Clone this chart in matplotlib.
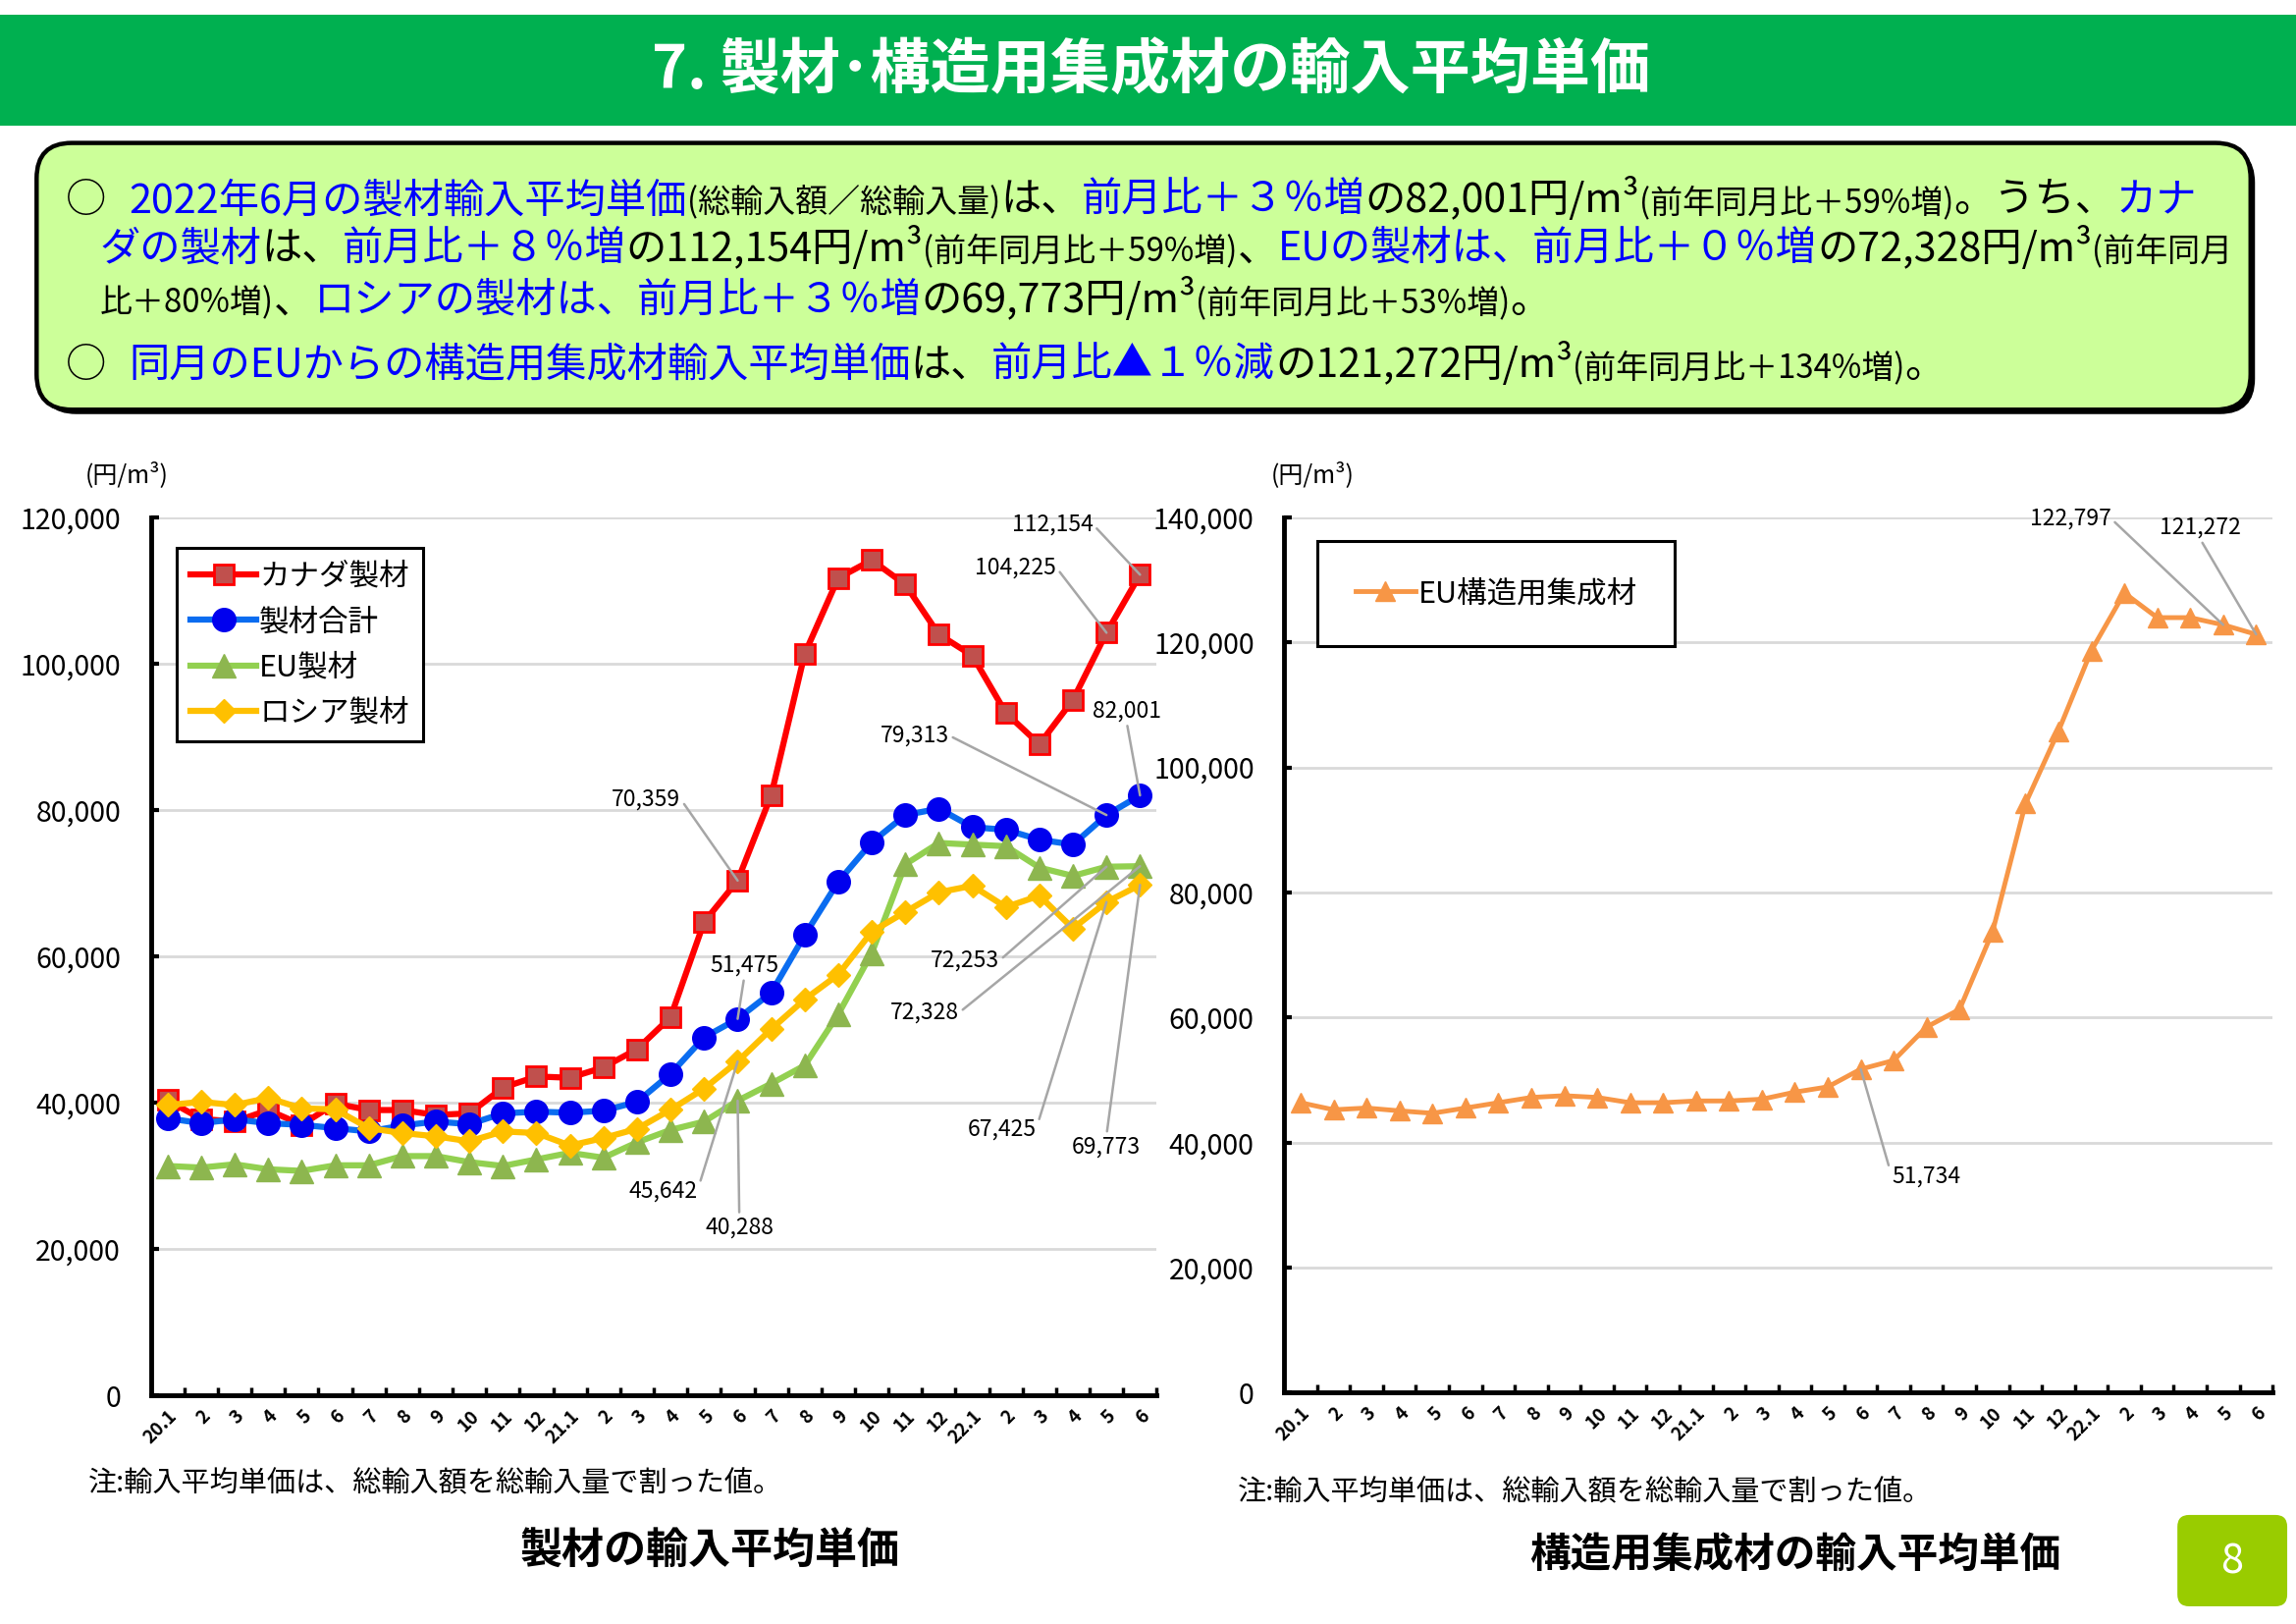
import matplotlib.pyplot as plt
from matplotlib.patches import FancyBboxPatch, Rectangle
from matplotlib.ticker import FuncFormatter

plt.rcParams['font.family'] = ['Noto Sans CJK JP', 'DejaVu Sans']

# ---- data (yen per m3), 2020.1 - 2022.6 ----
MONTHS = ["20.1", "2", "3", "4", "5", "6", "7", "8", "9", "10", "11", "12",
          "21.1", "2", "3", "4", "5", "6", "7", "8", "9", "10", "11", "12",
          "22.1", "2", "3", "4", "5", "6"]

CANADA = [40360, 37800, 37440, 39000, 37000, 39910, 39010, 39010, 38340, 38560,
          42070, 43600, 43420, 44850, 47330, 51700, 64700, 70359, 82000, 101350,
          111700, 114150, 110800, 104000, 101100, 93260, 88990, 95050, 104225, 112154]
TOTAL = [37890, 37210, 37750, 37210, 36990, 36540, 36090, 36900, 37440, 37080,
         38560, 38790, 38650, 38920, 40130, 43950, 48940, 51475, 55030, 62900,
         70200, 75600, 79300, 80200, 77660, 77300, 75950, 75280, 79313, 82001]
EU = [31370, 31150, 31600, 30920, 30700, 31460, 31460, 32720, 32720, 31900,
      31370, 32270, 33170, 32500, 34600, 36300, 37430, 40288, 42620, 45100,
      52100, 60450, 72580, 75500, 75280, 75060, 72130, 71000, 72253, 72328]
RUSSIA = [39690, 40130, 39690, 40670, 39240, 39100, 36540, 35870, 35420, 34740,
          36090, 35870, 34160, 35190, 36450, 39050, 41940, 45642, 50070, 54130,
          57520, 63370, 66070, 68760, 69660, 66740, 68300, 63820, 67425, 69773]
GLULAM = [46370, 45240, 45520, 45070, 44680, 45520, 46370, 47210, 47490, 47210,
          46370, 46370, 46650, 46650, 46930, 48060, 48900, 51734, 53130, 58480,
          61300, 73690, 94210, 105790, 118680, 127890, 123950, 123950, 122797, 121272]

BLUE_TXT = "#0000FF"
W, H = 1568, 1102   # layout grid used for placing page elements

fig = plt.figure(figsize=(23.39, 16.54), dpi=100)
bg = fig.add_axes([0, 0, 1, 1])
bg.set_xlim(0, W)
bg.set_ylim(H, 0)
bg.axis("off")


def fx(x):
    return x / W


def fy(y):
    return 1 - y / H


# header band and title
bg.add_patch(Rectangle((0, 10), W, 75, color="#00B050", lw=0))
bg.text(W / 2 + 2, 48, "7. 製材･構造用集成材の輸入平均単価", color="white",
        fontsize=44, fontweight="bold", ha="center", va="center")

# summary box
bg.add_patch(FancyBboxPatch((28, 100), 1512, 181, boxstyle="round,pad=0,rounding_size=24",
                            fc="black", ec="black", lw=0))
bg.add_patch(FancyBboxPatch((25, 97), 1512, 181, boxstyle="round,pad=0,rounding_size=24",
                            fc="#CCFF99", ec="black", lw=3.2))


def put_runs(x, y, runs, size):
    r = fig.canvas.get_renderer()
    made = []
    for text, color, rel in runs:
        t = bg.text(x, y, text, color=color, fontsize=size * rel, ha="left", va="baseline")
        made.append(t)
        x += t.get_window_extent(renderer=r).width * W / fig.bbox.width
    return x, made


K = "black"
B = BLUE_TXT
LINE1 = [("2022年6月の製材輸入平均単価", B, 1), ("(総輸入額／総輸入量)", K, .8), ("は、", K, 1),
         ("前月比＋３％増", B, 1), ("の82,001円/m³", K, 1), ("(前年同月比＋59%増)", K, .8),
         ("。うち、", K, 1), ("カナ", B, 1)]
LINE2 = [("ダの製材", B, 1), ("は、", K, 1), ("前月比＋８％増", B, 1), ("の112,154円/m³", K, 1),
         ("(前年同月比＋59%増)", K, .8), ("、", K, 1), ("EUの製材は、前月比＋０％増", B, 1),
         ("の72,328円/m³", K, 1), ("(前年同月", K, .8)]
LINE3 = [("比＋80%増)", K, .8), ("、", K, 1), ("ロシアの製材は、前月比＋３％増", B, 1),
         ("の69,773円/m³", K, 1), ("(前年同月比＋53%増)", K, .8), ("。", K, 1)]
LINE4 = [("同月のEUからの構造用集成材輸入平均単価", B, 1), ("は、", K, 1), ("前月比▲１％減", B, 1),
         ("の121,272円/m³", K, 1), ("(前年同月比＋134%増)", K, .8), ("。", K, 1)]

end, tmp = put_runs(88, 144, LINE1, 20)
for t in tmp:
    t.remove()
size = 20 * (1500 - 88) / (end - 88)

bg.text(45, 144, "○", fontsize=size, ha="left", va="baseline")
put_runs(88, 144, LINE1, size)
put_runs(68, 177, LINE2, size)
put_runs(68, 212, LINE3, size)
bg.text(45, 256, "○", fontsize=size, ha="left", va="baseline")
put_runs(88, 256, LINE4, size)

# unit labels, notes, captions
bg.text(58, 322, "(円/m³)", fontsize=18, ha="left", va="center")
bg.text(868, 322, "(円/m³)", fontsize=18, ha="left", va="center")
note = "注:輸入平均単価は、総輸入額を総輸入量で割った値。"
bg.text(60, 1007, note, fontsize=21, ha="left", va="center")
bg.text(845, 1013, note, fontsize=21, ha="left", va="center")
bg.text(485, 1052, "製材の輸入平均単価", fontsize=31, fontweight="bold", ha="center", va="center")
bg.text(1226, 1055, "構造用集成材の輸入平均単価", fontsize=30, fontweight="bold",
        ha="center", va="center")
bg.add_patch(FancyBboxPatch((1487, 1028), 75, 62, boxstyle="round,pad=0,rounding_size=8",
                            fc="#99CC00", ec="none"))
bg.text(1524, 1060, "8", color="white", fontsize=30, ha="center", va="center")


def style_axes(ax, ymax):
    ax.set_xlim(-0.5, len(MONTHS) - 0.5)
    ax.set_ylim(0, ymax)
    ax.set_yticks(range(0, ymax + 1, 20000))
    ax.yaxis.set_major_formatter(FuncFormatter(lambda v, p: f"{v:,.0f}"))
    ax.set_xticks(range(len(MONTHS)))
    ax.set_xticklabels(MONTHS, rotation=45, ha="right", rotation_mode="anchor",
                       fontweight="bold", fontsize=13.5)
    ax.set_xticks([i + 0.5 for i in range(len(MONTHS))], minor=True)
    ax.tick_params(axis="x", which="major", length=0, pad=8)
    ax.tick_params(axis="x", which="minor", length=6, width=2.5, direction="in")
    ax.tick_params(axis="y", length=6, width=3, direction="in", labelsize=20.5, pad=22)
    ax.grid(axis="y", color="#D9D9D9", lw=2)
    ax.set_axisbelow(True)
    for s in ("top", "right"):
        ax.spines[s].set_visible(False)
    for s in ("left", "bottom"):
        ax.spines[s].set_linewidth(3.5)


def label(ax, series, idx, xt, yt, ha, rel):
    ax.annotate(f"{series[idx]:,}", xy=(idx, series[idx]), xytext=(xt, yt),
                ha=ha, va="center", fontsize=16.5, annotation_clip=False, zorder=6,
                arrowprops=dict(arrowstyle="-", color="#A6A6A6", lw=1.8,
                                shrinkA=1, shrinkB=0, relpos=rel))


x = list(range(len(MONTHS)))

# ---- left chart: sawn wood ----
ax1 = fig.add_axes([fx(103), fy(947), (790 - 103) / W, (947 - 351) / H])
style_axes(ax1, 120000)
ax1.plot(x, CANADA, color="#FF0000", lw=4.5, marker="s", ms=15, mfc="#C0504D",
         mec="#FF0000", mew=2, label="カナダ製材")
ax1.plot(x, TOTAL, color="#0A6CF0", lw=4.5, marker="o", ms=17, mfc="#0000EE",
         mec="#0000EE", label="製材合計")
ax1.plot(x, EU, color="#92D050", lw=4.5, marker="^", ms=17, mfc="#8DB64F",
         mec="#8DB64F", label="EU製材")
ax1.plot(x, RUSSIA, color="#FFC000", lw=4.5, marker="D", ms=12, mfc="#FFC000",
         mec="#FFC000", label="ロシア製材")
leg1 = ax1.legend(loc="upper left", bbox_to_anchor=(0.026, 0.965), borderaxespad=0,
                  fontsize=22, fancybox=False, edgecolor="black", framealpha=1,
                  handlelength=2.2, handletextpad=0.1, labelspacing=0.5, borderpad=0.45)
leg1.get_frame().set_linewidth(2.2)

label(ax1, CANADA, 29, 27.6, 119000, "right", (1, 0.5))
label(ax1, CANADA, 28, 26.5, 113150, "right", (1, 0.5))
label(ax1, TOTAL, 29, 28.6, 93600, "center", (0.5, 0))
label(ax1, TOTAL, 28, 23.3, 90200, "right", (1, 0.5))
label(ax1, CANADA, 17, 15.3, 81500, "right", (1, 0.5))
label(ax1, TOTAL, 17, 17.2, 58800, "center", (0.5, 0))
label(ax1, EU, 28, 24.8, 59400, "right", (1, 0.5))
label(ax1, EU, 29, 23.6, 52300, "right", (1, 0.5))
label(ax1, RUSSIA, 28, 25.9, 36400, "right", (1, 0.5))
label(ax1, RUSSIA, 29, 28.0, 34000, "center", (0.5, 1))
label(ax1, RUSSIA, 17, 15.8, 28000, "right", (1, 0.5))
label(ax1, EU, 17, 17.05, 22950, "center", (0.5, 1))

# ---- right chart: structural glulam from EU ----
ax2 = fig.add_axes([fx(877), fy(945), (1552 - 877) / W, (945 - 351) / H])
style_axes(ax2, 140000)
ax2.plot(x, GLULAM, color="#F79646", lw=3.5, marker="^", ms=15, mfc="#F79646",
         mec="#F79646", label="EU構造用集成材")
leg2 = ax2.legend(loc="upper left", bbox_to_anchor=(0.034, 0.973), borderaxespad=0,
                  fontsize=22, fancybox=False, edgecolor="black", framealpha=1,
                  handlelength=2.0, handletextpad=0.1, borderpad=1.25)
leg2.get_frame().set_linewidth(2.2)

label(ax2, GLULAM, 17, 17.94, 34650, "left", (0, 0.5))
label(ax2, GLULAM, 28, 24.6, 139770, "right", (1, 0.5))
label(ax2, GLULAM, 29, 27.3, 138350, "center", (0.5, 0))

fig.savefig("out.png", dpi=100)
